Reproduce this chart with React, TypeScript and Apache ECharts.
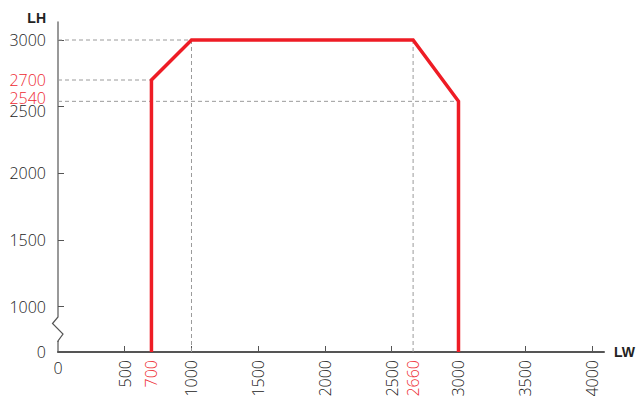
import React, { useEffect, useRef } from "react";
import * as echarts from "echarts";

// LW (x) / LH (y) envelope
const lwValues = [700, 700, 1000, 2660, 3000, 3000];
const lhValues = [0, 2700, 3000, 3000, 2540, 0];

const xTickValues = [500, 1000, 1500, 2000, 2500, 3000, 3500, 4000];
const xLabelValues = [500, 700, 1000, 1500, 2000, 2500, 2660, 3000, 3500, 4000];
const xRedLabels = [700, 2660];

const yTickValues = [1000, 1500, 2000, 2500, 3000];
const yLabelValues = [1000, 1500, 2000, 2500, 2540, 2700, 3000];
const yRedLabels = [2700, 2540];

// dashed reference lines
const refHorizontal = [
  { lh: 3000, toLw: 1000 },
  { lh: 2700, toLw: 700 },
  { lh: 2540, toLw: 3000 },
];
const refVertical = [
  { lw: 1000, fromLh: 3000 },
  { lw: 2660, fromLh: 3000 },
];

// broken y axis: value shown as 0 sits at this axis minimum
const Y_BASE = 660;
const mapY = (v: number) => (v === 0 ? Y_BASE : v);

const RED_LINE = "#ee1c25";
const RED_TEXT = "#ee2a32";
const TEXT = "#222";
const FONT = "'Open Sans', Roboto, 'Liberation Sans', Arial, sans-serif";
const FS = 16;
const FW = 300;

export default function App() {
  const ref = useRef<HTMLDivElement>(null);
  useEffect(() => {
    if (!ref.current) return;
    const chart = echarts.init(ref.current, null, { renderer: "svg" });
    const dashed = { color: "#9a9a9a", width: 1, type: [4, 3] as any };
    const series: any[] = [];
    refHorizontal.forEach((r) => {
      series.push({
        type: "line",
        data: [
          [0, r.lh],
          [r.toLw, r.lh],
        ],
        symbol: "none",
        lineStyle: dashed,
        z: 1,
        silent: true,
      });
    });
    refVertical.forEach((r) => {
      series.push({
        type: "line",
        data: [
          [r.lw, r.fromLh],
          [r.lw, Y_BASE],
        ],
        symbol: "none",
        lineStyle: dashed,
        z: 1,
        silent: true,
      });
    });
    series.push({
      type: "line",
      data: lwValues.map((x, i) => [x, mapY(lhValues[i])]),
      symbol: "none",
      lineStyle: { color: RED_LINE, width: 3.5, join: "miter" },
      z: 5,
    });

    const txt = { fontFamily: FONT, fontSize: FS, fontWeight: FW };

    chart.setOption({
      animation: false,
      grid: { left: 58, right: 35, top: 22, bottom: 44, outerBoundsMode: "none", containLabel: false },
      xAxis: [
        {
          type: "value",
          min: 0,
          max: 4090,
          name: "LW",
          nameLocation: "end",
          nameGap: 10,
          nameTextStyle: {
            fontFamily: "'Liberation Sans', Arial, sans-serif",
            fontWeight: "bold",
            fontSize: 14,
            color: "#222",
            verticalAlign: "middle",
            padding: [0, 0, 7, 0],
          },
          splitLine: { show: false },
          axisLine: { show: true, lineStyle: { color: "#555", width: 2 } },
          axisTick: {
            show: true,
            inside: true,
            length: 6,
            customValues: xTickValues,
            lineStyle: { color: "#555", width: 1 },
          },
          axisLabel: {
            customValues: xLabelValues,
            rotate: 90,
            margin: 8,
            ...txt,
            color: TEXT,
            formatter: (v: number) => (xRedLabels.includes(v) ? `{r|${v}}` : `${v}`),
            rich: { r: { color: RED_TEXT, ...txt } },
          },
        },
        {
          type: "value",
          min: 0,
          max: 4090,
          position: "bottom",
          splitLine: { show: false },
          axisLine: { show: false },
          axisTick: { show: false },
          axisLabel: {
            customValues: [0],
            rotate: 0,
            margin: 8,
            ...txt,
            color: TEXT,
          },
        },
      ],
      yAxis: {
        type: "value",
        min: Y_BASE,
        max: 3135,
        name: "LH",
        nameLocation: "end",
        nameGap: 4,
        nameTextStyle: {
          fontFamily: "'Liberation Sans', Arial, sans-serif",
          fontWeight: "bold",
          fontSize: 14,
          color: "#222",
          align: "right",
          verticalAlign: "middle",
          padding: [0, 12, 0, 0],
        },
        splitLine: { show: false },
        axisLine: { show: true, lineStyle: { color: "#777", width: 1.5 } },
        axisTick: {
          show: true,
          inside: true,
          length: 6,
          customValues: yTickValues,
          lineStyle: { color: "#555", width: 1 },
        },
        axisLabel: {
          customValues: [Y_BASE, ...yLabelValues],
          margin: 12,
          ...txt,
          color: TEXT,
          formatter: (v: number) => {
            if (v === Y_BASE) return "0";
            if (v === 2540) return `{up|${v}}`;
            if (v === 2500) return `{down|${v}}`;
            if (yRedLabels.includes(v)) return `{r|${v}}`;
            return `${v}`;
          },
          rich: {
            r: { color: RED_TEXT, ...txt },
            up: { color: RED_TEXT, ...txt, padding: [0, 0, 6, 0] },
            down: { color: TEXT, ...txt, padding: [9, 0, 0, 0] },
          },
        },
      },
      series,
    });

    // axis break zig-zag on the y axis
    const base = chart.convertToPixel({ xAxisIndex: 0, yAxisIndex: 0 }, [0, Y_BASE]) as number[];
    const ax = base[0];
    const by = base[1];
    chart.setOption({
      graphic: [
        {
          type: "rect",
          z: 100,
          shape: { x: ax - 3, y: by - 36, width: 6, height: 25 },
          style: { fill: "#fff" },
        },
        {
          type: "polyline",
          z: 101,
          shape: {
            points: [
              [ax, by - 36],
              [ax, by - 35],
              [ax - 5.5, by - 28.5],
              [ax + 5, by - 18],
              [ax, by - 11],
              [ax, by - 10],
            ],
          },
          style: { stroke: "#555", lineWidth: 1.2, fill: "none" },
        },
      ],
    });

    return () => chart.dispose();
  }, []);
  return (
    <div
      ref={ref}
      style={{ position: "fixed", left: 0, top: 0, width: 639, height: 396, background: "#fff" }}
    />
  );
}
